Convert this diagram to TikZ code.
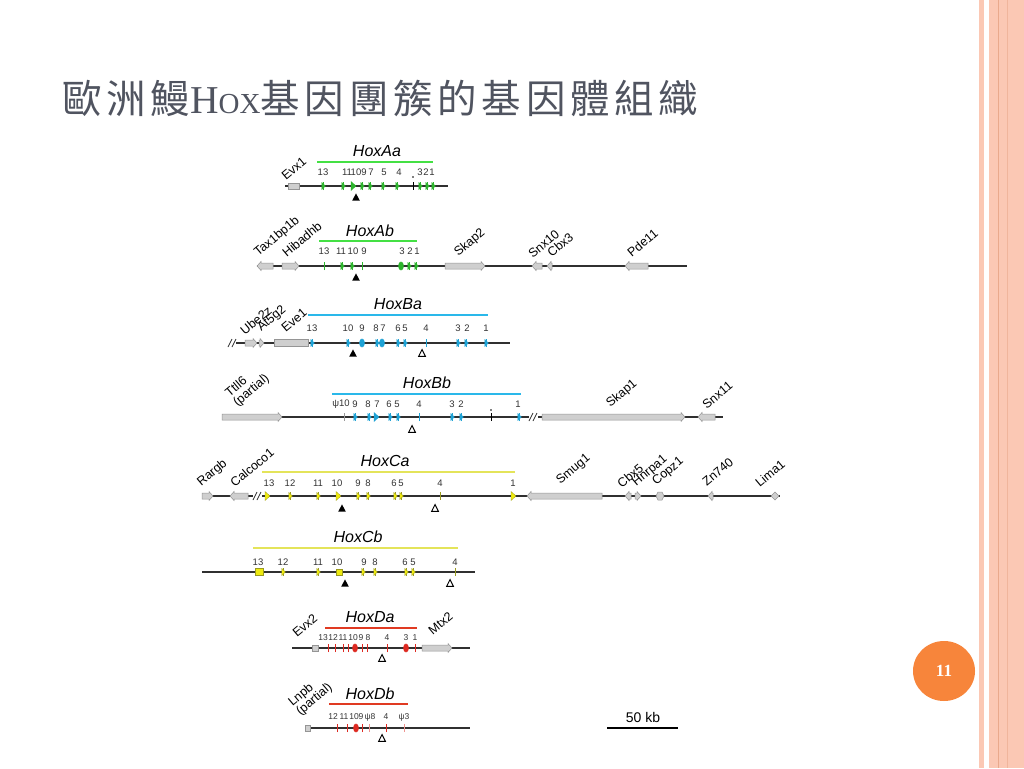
\documentclass[tikz,border=0pt]{standalone}
\usepackage{fontspec}
\setmainfont{Liberation Sans}
\newfontfamily\cjk[LetterSpace=12]{Noto Sans CJK TC}
\newfontfamily\titleserif{Liberation Serif}
\usepackage{xcolor}
\usepackage{tikz}
\usetikzlibrary{arrows.meta}

\definecolor{titlegray}{RGB}{80,84,96}
\definecolor{linegray}{HTML}{303030}
\definecolor{genefill}{HTML}{CFCFCF}
\definecolor{genedraw}{HTML}{959595}
\definecolor{hoxgreen}{HTML}{2DB42D}
\definecolor{bargreen}{HTML}{44E044}
\definecolor{hoxblue}{HTML}{1FA3D6}
\definecolor{barblue}{HTML}{2AB8EA}
\definecolor{hoxyellow}{HTML}{EEEA10}
\definecolor{yellowedge}{HTML}{9A9A20}
\definecolor{baryellow}{HTML}{E4E45A}
\definecolor{hoxred}{HTML}{DE2A22}
\definecolor{barred}{HTML}{E03A22}
\definecolor{stripe}{HTML}{FBC8B4}
\definecolor{stripeline}{HTML}{E9A98C}
\definecolor{pageorange}{HTML}{F7853B}

\tikzset{
  tk/.pic={\draw[pic actions, line width=0.6pt] (0,-4) -- (0,4);
    \filldraw[pic actions, line width=0.3pt] (-1.2,-3.6) -- (2.4,0) -- (-1.2,3.6) -- cycle;},
  tkbig/.pic={\filldraw[pic actions, line width=0.3pt] (-2,-4.5) -- (3,0) -- (-2,4.5) -- cycle;},
  tkoval/.pic={\filldraw[pic actions, line width=0.3pt] (0,0) ellipse (2.6 and 4.2);},
  tkline/.pic={\draw[pic actions, line width=0.8pt] (0,-4) -- (0,4);},
  trifull/.pic={\fill[black] (-3.8,3.6) -- (0,-3.6) -- (3.8,3.6) -- cycle;},
  triopen/.pic={\draw[black, line width=1pt, fill=white] (-3.4,3.4) -- (0,-3.4) -- (3.4,3.4) -- cycle;},
  Atk/.style={draw=hoxgreen, fill=hoxgreen},
  Btk/.style={draw=hoxblue, fill=hoxblue},
  Ctk/.style={draw=yellowedge, fill=hoxyellow},
  Dtk/.style={draw=hoxred, fill=hoxred},
  chrom/.style={draw=linegray, line width=1.2pt},
  brk/.style={draw=linegray, line width=0.8pt},
  genebox/.style={draw=genedraw, fill=genefill, line width=0.5pt},
  hoxbar/.style={line width=2.6pt},
}

% gray gene arrows: from x1 to x2 on a line at y
\newcommand{\generight}[3]{\draw[genebox] (#1,#3-3) -- (#2-4,#3-3) -- (#2-4,#3-4.5) -- (#2,#3) -- (#2-4,#3+4.5) -- (#2-4,#3+3) -- (#1,#3+3) -- cycle;}
\newcommand{\geneleft}[3]{\draw[genebox] (#2,#3-3) -- (#1+4,#3-3) -- (#1+4,#3-4.5) -- (#1,#3) -- (#1+4,#3+4.5) -- (#1+4,#3+3) -- (#2,#3+3) -- cycle;}

\begin{document}
\begin{tikzpicture}[x=1pt, y=-1pt,
  every node/.style={inner sep=0pt},
  glbl/.style={rotate=40, anchor=south west, font=\fontsize{12.5}{12}\selectfont, align=left},
  hlbl/.style={font=\fontsize{16}{16}\selectfont\itshape},
  num/.style={font=\fontsize{9.5}{9.5}\selectfont, text=black!80}]
\useasboundingbox (0,0) rectangle (1024,768);
\fill[white] (0,0) rectangle (1024,768);

% slide border on the right
\fill[stripe] (979,0) rectangle (984,768);
\fill[stripe] (989,0) rectangle (1024,768);
\draw[stripeline, line width=0.8pt] (998,0) -- (998,768);
\draw[stripeline!60!stripe, line width=0.8pt] (1007,0) -- (1007,768);

% title
\node[anchor=base west, text=titlegray, font=\fontsize{39.5}{42}\selectfont] (title) at (62,113)
  {\cjk 歐洲鰻{\titleserif H\fontsize{29}{30}\selectfont OX}基因團簇的基因體組織};

% page number
\fill[pageorange] (944,671) ellipse (31 and 30);
\node[text=white, font=\fontsize{17}{17}\selectfont\titleserif\bfseries] (page) at (944,671) {11};

% ---------- HoxAa ----------
\draw[chrom] (285,186) -- (448,186);
\draw[genebox] (288,183) rectangle (299,189);
\node[glbl] (evx1) at (286,181) {Evx1};
\draw[hoxbar, bargreen] (317,162) -- (433,162);
\node[hlbl] (hAa) at (377,151) {HoxAa};
\foreach \x/\n [count=\i] in {323/13, 347/11, 356/10, 364/9, 371/7, 384/5, 399/4, 420/3, 426/2, 432/1}
  \node[num] (nAa\i) at (\x,172) {\n};
\foreach \x in {323, 343, 362, 370, 383, 397, 420, 427, 433}
  \pic[Atk] at (\x,186) {tk};
\pic[Atk] at (353,186) {tkbig};
\pic at (413,186) {tkline};
\fill (413,177) circle (0.9);
\pic at (356,197) {trifull};

% ---------- HoxAb ----------
\draw[chrom] (257,266) -- (687,266);
\geneleft{257}{273}{266}
\generight{282}{299}{266}
\node[glbl] (tax1bp1b) at (260,259) {Tax1bp1b};
\node[glbl] (hibadhb) at (287,258) {Hibadhb};
\draw[hoxbar, bargreen] (319,241) -- (417,241);
\node[hlbl] (hAb) at (370,231) {HoxAb};
\foreach \x/\n [count=\i] in {324/13, 341/11, 353/10, 364/9, 402/3, 410/2, 417/1}
  \node[num] (nAb\i) at (\x,251) {\n};
\foreach \x in {342, 352, 409, 416}
  \pic[Atk] at (\x,266) {tk};
\foreach \x in {324, 362}
  \pic[Atk] at (\x,266) {tkline};
\pic[Atk] at (401,266) {tkoval};
\pic at (356,277) {trifull};
\generight{445}{485}{266}
\node[glbl] (skap2) at (460,259) {Skap2};
\geneleft{532}{542}{266}
\geneleft{547}{552}{266}
\node[glbl] (snx10) at (533,259) {Snx10};
\node[glbl] (cbx3) at (552,258) {Cbx3};
\geneleft{625}{648}{266}
\node[glbl] (pde11) at (632,258) {Pde11};

% ---------- HoxBa ----------
\draw[chrom] (236,343) -- (510,343);
\draw[brk] (228,347) -- (232,339);
\draw[brk] (232,347) -- (236,339);
\generight{245}{257}{343}
\generight{259}{264}{343}
\draw[genebox] (274,339.5) rectangle (308,346.5);
\node[glbl] (ube2z) at (245,336) {Ube2z};
\node[glbl] (at5g2) at (263,334) {At5g2};
\node[glbl] (eve1) at (286,333) {Eve1};
\draw[hoxbar, barblue] (308,315) -- (488,315);
\node[hlbl] (hBa) at (398,304) {HoxBa};
\foreach \x/\n [count=\i] in {312/13, 348/10, 362/9, 376/8, 383/7, 398/6, 405/5, 426/4, 458/3, 467/2, 486/1}
  \node[num] (nBa\i) at (\x,328) {\n};
\foreach \x in {312, 348, 377, 398, 405, 458, 466, 486}
  \pic[Btk] at (\x,343) {tk};
\foreach \x in {362, 382}
  \pic[Btk] at (\x,343) {tkoval};
\pic[Btk] at (426,343) {tkline};
\pic at (353,353) {trifull};
\pic at (422,353) {triopen};

% ---------- HoxBb ----------
\draw[chrom] (222,417) -- (529,417);
\draw[chrom] (538,417) -- (723,417);
\draw[brk] (529,421) -- (533,413);
\draw[brk] (533,421) -- (537,413);
\generight{222}{282}{417}
\node[glbl] (ttll6) at (239,409) {Ttll6\\(partial)};
\draw[hoxbar, barblue] (332,394) -- (521,394);
\node[hlbl] (hBb) at (427,383) {HoxBb};
\foreach \x/\n [count=\i] in {341/ψ10, 355/9, 368/8, 377/7, 389/6, 397/5, 419/4, 452/3, 461/2, 518/1}
  \node[num] (nBb\i) at (\x,404) {\n};
\foreach \x in {355, 369, 390, 398, 452, 461, 519}
  \pic[Btk] at (\x,417) {tk};
\pic[Btk] at (376,417) {tkbig};
\pic[Btk] at (419,417) {tkline};
\pic[draw=black!40] at (344,417) {tkline};
\pic at (491,417) {tkline};
\fill (491,410) circle (0.9);
\pic at (412,429) {triopen};
\generight{542}{685}{417}
\node[glbl] (skap1) at (612,410) {Skap1};
\geneleft{698}{715}{417}
\node[glbl] (snx11) at (707,410) {Snx11};

% ---------- HoxCa ----------
\draw[chrom] (202,496) -- (253,496);
\draw[chrom] (262,496) -- (780,496);
\draw[brk] (253,500) -- (257,492);
\draw[brk] (257,500) -- (261,492);
\generight{202}{213}{496}
\geneleft{230}{248}{496}
\node[glbl] (rargb) at (203,489) {Rargb};
\node[glbl] (calcoco1) at (235,488) {Calcoco1};
\draw[hoxbar, baryellow] (262,472) -- (515,472);
\node[hlbl] (hCa) at (385,461) {HoxCa};
\foreach \x/\n [count=\i] in {269/13, 290/12, 318/11, 337/10, 358/9, 368/8, 394/6, 401/5, 440/4, 513/1}
  \node[num] (nCa\i) at (\x,483) {\n};
\foreach \x in {290, 318, 358, 368, 395, 401}
  \pic[Ctk] at (\x,496) {tk};
\foreach \x in {267, 338, 513}
  \pic[Ctk] at (\x,496) {tkbig};
\pic[draw=yellowedge] at (440,496) {tkline};
\pic at (342,508) {trifull};
\pic at (435,508) {triopen};
\geneleft{527}{602}{496}
\node[glbl] (smug1) at (562,487) {Smug1};
\geneleft{625}{631}{496}
\generight{635}{641}{496}
\draw[genebox] (656,496) -- (658,492) -- (662,492) -- (664,496) -- (662,500) -- (658,500) -- cycle;
\geneleft{708}{713}{496}
\draw[genebox] (771,496) -- (775,492) -- (779,496) -- (775,500) -- cycle;
\node[glbl] (cbx5) at (622,489) {Cbx5};
\node[glbl] (hnrpa1) at (638,489) {Hnrpa1};
\node[glbl] (copz1) at (658,488) {Copz1};
\node[glbl] (zn740) at (707,487) {Zn740};
\node[glbl] (lima1) at (760,488) {Lima1};

% ---------- HoxCb ----------
\draw[chrom] (202,572) -- (475,572);
\draw[hoxbar, baryellow] (253,548) -- (458,548);
\node[hlbl] (hCb) at (358,537) {HoxCb};
\foreach \x/\n [count=\i] in {258/13, 283/12, 318/11, 337/10, 364/9, 375/8, 405/6, 413/5, 455/4}
  \node[num] (nCb\i) at (\x,562) {\n};
\filldraw[draw=yellowedge, fill=hoxyellow, line width=0.3pt] (255,568.5) rectangle (263,575.5);
\filldraw[draw=yellowedge, fill=hoxyellow, line width=0.3pt] (336,569) rectangle (342,575);
\foreach \x in {283, 318, 363, 375, 406, 413}
  \pic[Ctk] at (\x,572) {tk};
\pic[draw=yellowedge] at (455,572) {tkline};
\pic at (345,583) {trifull};
\pic at (450,583) {triopen};

% ---------- HoxDa ----------
\draw[chrom] (292,648) -- (470,648);
\draw[genebox] (312,645) rectangle (318,651);
\node[glbl] (evx2) at (297,638) {Evx2};
\draw[hoxbar, barred] (325,628) -- (417,628);
\node[hlbl] (hDa) at (370,617) {HoxDa};
\foreach \x/\n [count=\i] in {323/13, 333/12, 343/11, 353/10, 361/9, 368/8, 387/4, 406/3, 415/1}
  \node[num, font=\fontsize{8.5}{9}\selectfont] (nDa\i) at (\x,638) {\n};
\foreach \x in {328, 335, 343, 348, 362, 367, 387, 415}
  \pic[Dtk] at (\x,648) {tkline};
\foreach \x in {355, 406}
  \pic[Dtk] at (\x,648) {tkoval};
\generight{422}{452}{648}
\node[glbl] (mtx2) at (433,636) {Mtx2};
\pic at (382,658) {triopen};

% ---------- HoxDb ----------
\draw[chrom] (305,728) -- (470,728);
\draw[genebox] (305,725) rectangle (310,731);
\node[glbl] (lnpb) at (302,718) {Lnpb\\(partial)};
\draw[hoxbar, barred] (329,704) -- (408,704);
\node[hlbl] (hDb) at (370,694) {HoxDb};
\foreach \x/\n [count=\i] in {333/12, 344/11, 354/10, 361/9, 370/ψ8, 386/4, 404/ψ3}
  \node[num, font=\fontsize{8.5}{9}\selectfont] (nDb\i) at (\x,717) {\n};
\foreach \x in {337, 347, 362, 386}
  \pic[Dtk] at (\x,728) {tkline};
\pic[Dtk] at (356,728) {tkoval};
\pic[draw=hoxred!50] at (369,728) {tkline};
\pic[draw=hoxred!50] at (404,728) {tkline};
\pic at (382,738) {triopen};

% scale bar
\draw[line width=1.3pt] (607,728) -- (678,728);
\node[font=\fontsize{14}{14}\selectfont] (scale) at (643,717) {50 kb};
\end{tikzpicture}
\end{document}
